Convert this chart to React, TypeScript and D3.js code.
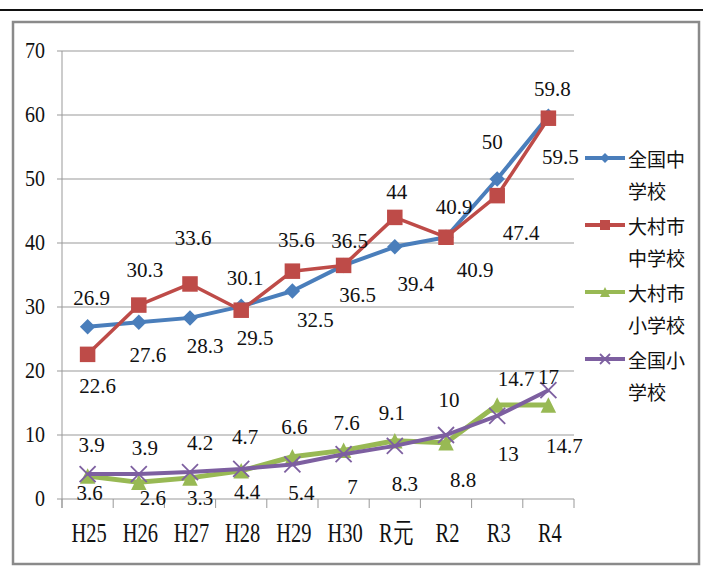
import React from 'react';
import * as d3 from 'd3';

const categories = ['H25', 'H26', 'H27', 'H28', 'H29', 'H30', 'R元', 'R2', 'R3', 'R4'];

// 全国中学校
const nationalJunior = [26.9, 27.6, 28.3, 30.1, 32.5, 36.5, 39.4, 40.9, 50, 59.8];
// 大村市中学校
const omuraJunior = [22.6, 30.3, 33.6, 29.5, 35.6, 36.5, 44, 40.9, 47.4, 59.5];
// 大村市小学校
const omuraElem = [3.6, 2.6, 3.3, 4.4, 6.6, 7.6, 9.1, 8.8, 14.7, 14.7];
// 全国小学校
const nationalElem = [3.9, 3.9, 4.2, 4.7, 5.4, 7, 8.3, 10, 13, 17];

const yTicks = [0, 10, 20, 30, 40, 50, 60, 70];

// label nudges relative to each point [dx, dy]
const nudgeNationalJunior = [[4, -29], [9, 33], [15, 28], [4, -28], [23, 29], [14, 30], [21, 37], [8, -30], [-5, -37], [4, -27]];
const nudgeOmuraJunior = [[10, 32], [6, -35], [3, -46], [14, 28], [4, -31], [6, -24], [2, -25], [29, 33], [24, 37], [12, 39]];
const nudgeOmuraElem = [[2, 17], [14, 16], [10, 20], [6, 21], [2, -30], [3, -27], [-3, -28], [17, 37], [19, -26], [16, 41]];
const nudgeNationalElem = [[4, -29], [6, -26], [10, -29], [4, -32], [9, 29], [9, 33], [10, 38], [3, -35], [11, 38], [0, -13]];

const W = 703;
const H = 569;
const SERIF = "'Liberation Serif', 'Times New Roman', Times, 'DejaVu Serif', serif";
const CJK = "'Noto Sans CJK JP', sans-serif";

type Marker = 'diamond' | 'square' | 'triangle' | 'x';

interface Series {
  name: string[];
  values: number[];
  nudges: number[][];
  color: string;
  marker: Marker;
  width: number;
}

const series: Series[] = [
  { name: ['全国中', '学校'], values: nationalJunior, nudges: nudgeNationalJunior, color: '#4a7ebb', marker: 'diamond', width: 4 },
  { name: ['大村市', '中学校'], values: omuraJunior, nudges: nudgeOmuraJunior, color: '#be4b48', marker: 'square', width: 3.5 },
  { name: ['大村市', '小学校'], values: omuraElem, nudges: nudgeOmuraElem, color: '#98b954', marker: 'triangle', width: 5 },
  { name: ['全国小', '学校'], values: nationalElem, nudges: nudgeNationalElem, color: '#7d5fa0', marker: 'x', width: 4 },
];

function MarkerShape({ kind, color, s }: { kind: Marker; color: string; s: number }) {
  const h = s / 2;
  if (kind === 'diamond') {
    return <path d={`M0,${-h}L${h},0L0,${h}L${-h},0Z`} fill={color} />;
  }
  if (kind === 'square') {
    return <rect x={-h} y={-h} width={s} height={s} fill={color} />;
  }
  if (kind === 'triangle') {
    return <path d={`M0,${-h}L${h},${h}L${-h},${h}Z`} fill={color} />;
  }
  return (
    <g stroke={color} strokeWidth={1.8}>
      <line x1={-h} y1={-h} x2={h} y2={h} />
      <line x1={-h} y1={h} x2={h} y2={-h} />
    </g>
  );
}

export default function App() {
  const x = d3.scaleBand<string>().domain(categories).range([62, 574]);
  const y = d3.scaleLinear().domain([0, 70]).range([499, 51]);
  const cx = (c: string) => (x(c) ?? 0) + x.bandwidth() / 2;

  const line = d3
    .line<number>()
    .x((_, i) => cx(categories[i]))
    .y((d) => y(d));

  const bounds = [...categories.map((c) => x(c) ?? 0), x.range()[1]];

  return (
    <div style={{ position: 'fixed', left: 0, top: 0 }}>
      <svg width={W} height={H} style={{ display: 'block', background: '#fff' }}>
        <line x1={0} x2={W} y1={10} y2={10} stroke="#111" strokeWidth={2.2} />
        <rect x={13} y={22} width={686} height={542} fill="#fff" stroke="#8a8a8a" strokeWidth={2.5} />

        {/* grid + y axis */}
        {yTicks.map((t) => (
          <g key={t}>
            {t > 0 && <line x1={62} x2={574} y1={y(t)} y2={y(t)} stroke="#999" strokeWidth={1} />}
            <line x1={57} x2={62} y1={y(t)} y2={y(t)} stroke="#999" strokeWidth={1} />
            <text
              transform={`translate(45,${y(t)}) scale(1,1.15)`}
              textAnchor="end"
              dominantBaseline="central"
              style={{ fontFamily: SERIF }}
              fontSize={20}
              fill="#111"
            >
              {t}
            </text>
          </g>
        ))}
        <line x1={62} x2={62} y1={y(70)} y2={508} stroke="#999" strokeWidth={1} />
        <line x1={62} x2={574} y1={y(0)} y2={y(0)} stroke="#999" strokeWidth={1} />
        {bounds.map((b, i) => (
          <line key={i} x1={b} x2={b} y1={y(0)} y2={508} stroke="#999" strokeWidth={1} />
        ))}
        {categories.map((c) => (
          <text
            key={c}
            transform={`translate(${cx(c) + 1.5},533) scale(1,1.3)`}
            textAnchor="middle"
            dominantBaseline="central"
            style={{ fontFamily: SERIF }}
            fontSize={20.5}
            fill="#111"
          >
            {c}
          </text>
        ))}

        {/* series */}
        {series.map((s) => (
          <g key={s.name.join('')}>
            <path d={line(s.values) ?? ''} fill="none" stroke={s.color} strokeWidth={s.width} strokeLinejoin="round" />
            {s.values.map((v, i) => (
              <g key={i} transform={`translate(${cx(categories[i])},${y(v)})`}>
                <MarkerShape kind={s.marker} color={s.color} s={s.marker === 'x' ? 16 : 15.5} />
              </g>
            ))}
          </g>
        ))}

        {/* data labels */}
        {series.map((s) =>
          s.values.map((v, i) => (
            <text
              key={s.name.join('') + i}
              x={cx(categories[i]) + s.nudges[i][0]}
              y={y(v) + s.nudges[i][1]}
              textAnchor="middle"
              dominantBaseline="central"
              style={{ fontFamily: SERIF }}
              fontSize={21}
              fill="#111"
            >
              {v}
            </text>
          )),
        )}

        {/* legend */}
        {series.map((s, k) => {
          const ly = 158 + k * 67;
          return (
            <g key={'lg' + k}>
              <line x1={585} x2={625} y1={ly} y2={ly} stroke={s.color} strokeWidth={4} />
              <g transform={`translate(605,${ly})`}>
                <MarkerShape kind={s.marker} color={s.color} s={10} />
              </g>
              {s.name.map((t, j) => (
                <text
                  key={j}
                  x={628}
                  y={ly + j * 32}
                  dominantBaseline="central"
                  style={{ fontFamily: CJK }}
                  fontSize={19}
                  fill="#111"
                >
                  {t}
                </text>
              ))}
            </g>
          );
        })}
      </svg>
    </div>
  );
}
